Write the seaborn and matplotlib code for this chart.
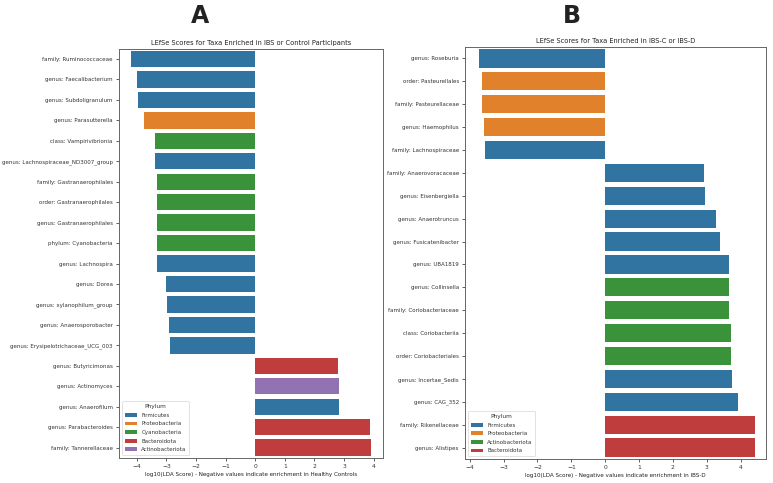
import matplotlib
matplotlib.use("Agg")
import matplotlib.pyplot as plt
import seaborn as sns
import pandas as pd

# Panel A data
taxa_a = [
    "family: Ruminococcaceae", "genus: Faecalibacterium", "genus: Subdoligranulum",
    "genus: Parasutterella", "class: Vampirivibrionia", "genus: Lachnospiraceae_ND3007_group",
    "family: Gastranaerophilales", "order: Gastranaerophilales", "genus: Gastranaerophilales",
    "phylum: Cyanobacteria", "genus: Lachnospira", "genus: Dorea", "genus: xylanophilum_group",
    "genus: Anaerosporobacter", "genus: Erysipelotrichaceae_UCG_003", "genus: Butyricimonas",
    "genus: Actinomyces", "genus: Anaerofilum", "genus: Parabacteroides", "family: Tannerellaceae",
]
scores_a = [-4.19, -4.01, -3.95, -3.75, -3.37, -3.37, -3.33, -3.32, -3.32, -3.31,
            -3.31, -3.02, -2.98, -2.90, -2.88, 2.80, 2.82, 2.84, 3.87, 3.92]
phylum_a = ["Firmicutes", "Firmicutes", "Firmicutes", "Proteobacteria", "Cyanobacteria",
            "Firmicutes", "Cyanobacteria", "Cyanobacteria", "Cyanobacteria", "Cyanobacteria",
            "Firmicutes", "Firmicutes", "Firmicutes", "Firmicutes", "Firmicutes",
            "Bacteroidota", "Actinobacteriota", "Firmicutes", "Bacteroidota", "Bacteroidota"]
phylum_order_a = ["Firmicutes", "Proteobacteria", "Cyanobacteria", "Bacteroidota", "Actinobacteriota"]

# Panel B data
taxa_b = [
    "genus: Roseburia", "order: Pasteurellales", "family: Pasteurellaceae", "genus: Haemophilus",
    "family: Lachnospiraceae", "family: Anaerovoracaceae", "genus: Eisenbergiella",
    "genus: Anaerotruncus", "genus: Fusicatenibacter", "genus: UBA1819", "genus: Collinsella",
    "family: Coriobacteriaceae", "class: Coriobacteriia", "order: Coriobacteriales",
    "genus: Incertae_Sedis", "genus: CAG_352", "family: Rikenellaceae", "genus: Alistipes",
]
scores_b = [-3.72, -3.64, -3.64, -3.59, -3.56, 2.91, 2.94, 3.26, 3.40, 3.65, 3.67,
            3.67, 3.71, 3.71, 3.74, 3.92, 4.43, 4.43]
phylum_b = ["Firmicutes", "Proteobacteria", "Proteobacteria", "Proteobacteria", "Firmicutes",
            "Firmicutes", "Firmicutes", "Firmicutes", "Firmicutes", "Firmicutes",
            "Actinobacteriota", "Actinobacteriota", "Actinobacteriota", "Actinobacteriota",
            "Firmicutes", "Firmicutes", "Bacteroidota", "Bacteroidota"]
phylum_order_b = ["Firmicutes", "Proteobacteria", "Actinobacteriota", "Bacteroidota"]

tab = sns.color_palette("tab10")
colors_a = {"Firmicutes": tab[0], "Proteobacteria": tab[1], "Cyanobacteria": tab[2],
            "Bacteroidota": tab[3], "Actinobacteriota": tab[4]}
colors_b = {"Firmicutes": tab[0], "Proteobacteria": tab[1], "Actinobacteriota": tab[2],
            "Bacteroidota": tab[3]}

fig = plt.figure(figsize=(7.73, 4.83), dpi=100)
ax_a = fig.add_axes([0.154, 0.052, 0.3415, 0.847])
ax_b = fig.add_axes([0.6016, 0.0497, 0.3894, 0.853])

def draw(ax, taxa, scores, phyla, order, pal, title, xlabel, xlim):
    df = pd.DataFrame({"taxon": taxa, "score": scores, "Phylum": phyla})
    sns.barplot(data=df, x="score", y="taxon", hue="Phylum", hue_order=order,
                palette=pal, dodge=False, ax=ax, orient="h")
    ax.set_xlim(*xlim)
    ax.set_title(title, fontsize=4.8, pad=3, color="#222222")
    ax.set_xlabel(xlabel, fontsize=4.1, labelpad=2, color="#222222")
    ax.set_ylabel("")
    ax.tick_params(axis="both", labelsize=4.0, length=2.5, width=0.6, pad=2,
                   colors="#444444", labelcolor="#333333")
    ax.tick_params(axis="x", labelsize=4.3)
    for s in ax.spines.values():
        s.set_linewidth(0.7)
        s.set_color("#666666")
    leg = ax.legend(title="Phylum", loc="lower left", fontsize=4.0, title_fontsize=4.2,
                    frameon=True, handlelength=2.2, handleheight=0.7, borderpad=0.5,
                    labelspacing=0.65)
    leg.get_frame().set_linewidth(0.5)
    plt.setp(leg.get_texts(), color="#333333")
    leg.get_title().set_color("#333333")

draw(ax_a, taxa_a, scores_a, phylum_a, phylum_order_a, colors_a,
     "LEfSe Scores for Taxa Enriched in IBS or Control Participants",
     "log10(LDA Score) - Negative values indicate enrichment in Healthy Controls",
     (-4.6, 4.32))
draw(ax_b, taxa_b, scores_b, phylum_b, phylum_order_b, colors_b,
     "LEfSe Scores for Taxa Enriched in IBS-C or IBS-D",
     "log10(LDA Score) - Negative values indicate enrichment in IBS-D",
     (-4.14, 4.75))

fig.text(200 / 773, 1 - 16 / 483, "A", fontsize=17, fontweight="heavy", ha="center", va="center",
         color="#222222")
fig.text(572 / 773, 1 - 16 / 483, "B", fontsize=17, fontweight="heavy", ha="center", va="center",
         color="#222222")

fig.savefig("out.png", dpi=100)
